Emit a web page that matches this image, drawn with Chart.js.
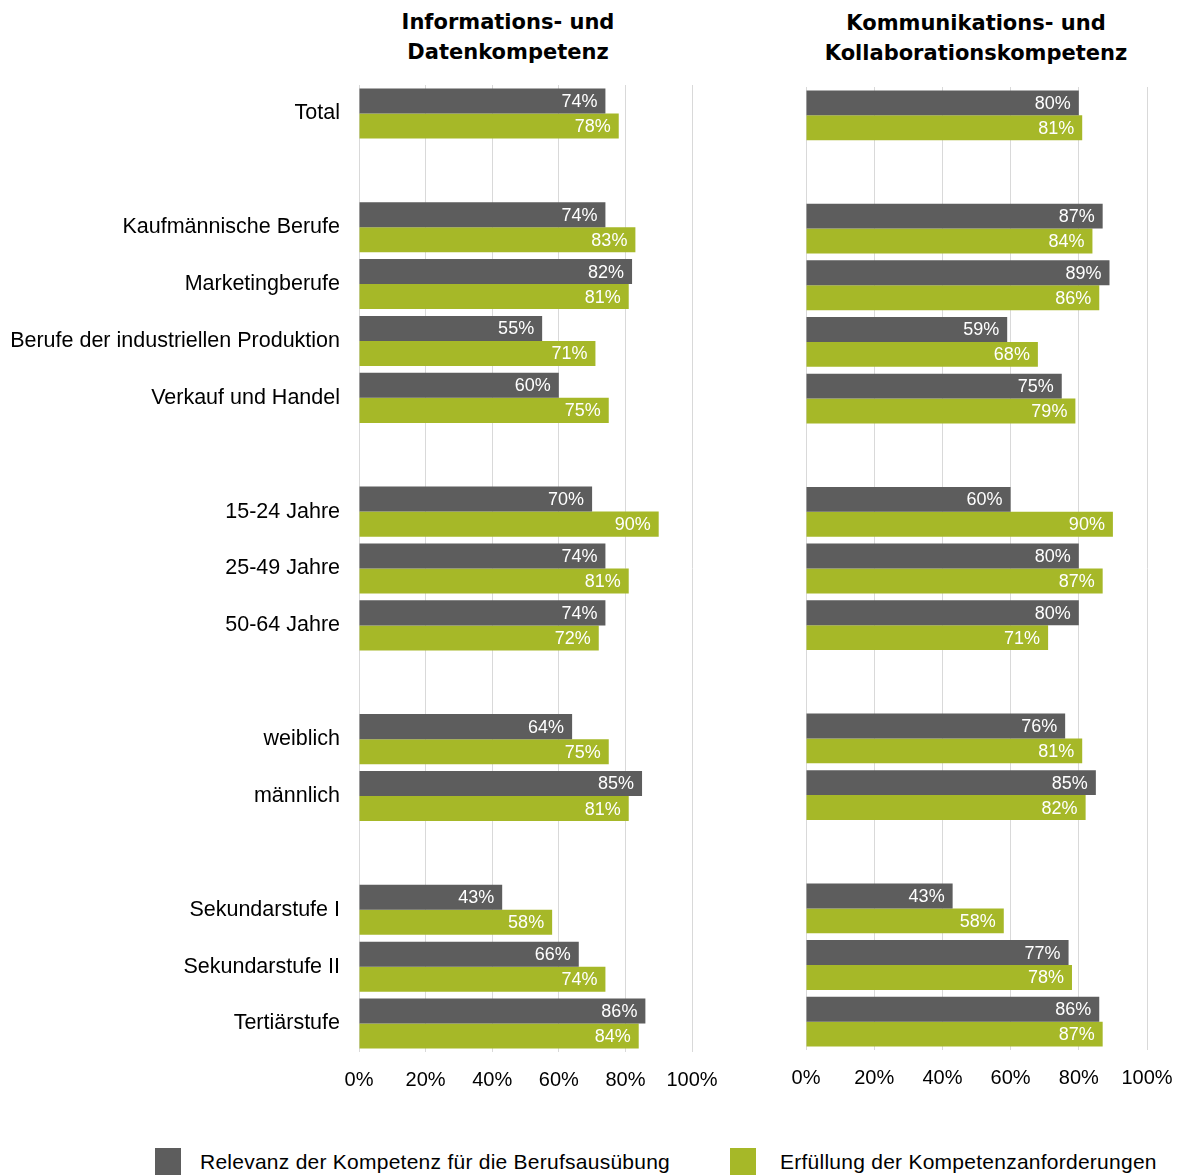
<!DOCTYPE html>
<html>
<head>
<meta charset="utf-8">
<script src="https://cdn.jsdelivr.net/npm/chart.js@4/dist/chart.umd.min.js"></script>
<style>
  html, body { margin: 0; padding: 0; background: #fff; }
  body { width: 1178px; height: 1175px; position: relative; overflow: hidden; font-family: "Liberation Sans", Arial, sans-serif; }
  .title { position: absolute; font-family: "DejaVu Sans", sans-serif; font-weight: bold; font-size: 21px; line-height: 30px; text-align: center; color: #000; width: 420px; }
  .cv { position: absolute; }
  .leg { position: absolute; top: 1148px; height: 27px; font-size: 21px; color: #000; }
  .sw { position: absolute; width: 26px; height: 27px; top: 0; }
  .lt { position: absolute; top: 2px; white-space: nowrap; letter-spacing: 0.25px; }
</style>
</head>
<body>
<div class="title" style="left:298px; top:7px;">Informations- und<br>Datenkompetenz</div>
<div class="title" style="left:766px; top:8px;">Kommunikations- und<br>Kollaborationskompetenz</div>

<canvas id="c1" class="cv" style="left:0px; top:85px;"></canvas>
<canvas id="c2" class="cv" style="left:770px; top:87px;"></canvas>

<div class="leg" style="left:155px;"><div class="sw" style="left:0; background:#5d5d5d;"></div><div class="lt" style="left:45px;">Relevanz der Kompetenz für die Berufsausübung</div></div>
<div class="leg" style="left:730px;"><div class="sw" style="left:0; background:#a6b828;"></div><div class="lt" style="left:50px;">Erfüllung der Kompetenzanforderungen</div></div>

<script>
const categories = ["Total", "", "Kaufmännische Berufe", "Marketingberufe", "Berufe der industriellen Produktion", "Verkauf und Handel", "", "15-24 Jahre", "25-49 Jahre", "50-64 Jahre", "", "weiblich", "männlich", "", "Sekundarstufe I", "Sekundarstufe II", "Tertiärstufe"];
const seriesNames = ["Relevanz der Kompetenz für die Berufsausübung", "Erfüllung der Kompetenzanforderungen"];
const infoRelevanz = [74, null, 74, 82, 55, 60, null, 70, 74, 74, null, 64, 85, null, 43, 66, 86];
const infoErfuellung = [78, null, 83, 81, 71, 75, null, 90, 81, 72, null, 75, 81, null, 58, 74, 84];
const kommRelevanz = [80, null, 87, 89, 59, 75, null, 60, 80, 80, null, 76, 85, null, 43, 77, 86];
const kommErfuellung = [81, null, 84, 86, 68, 79, null, 90, 87, 71, null, 81, 82, null, 58, 78, 87];
const xTicks = [0, 20, 40, 60, 80, 100];

const GRAY = "#5d5d5d";
const GREEN = "#a6b828";
const FONT = "'Liberation Sans', Arial, sans-serif";

const valueLabels = {
  id: "valueLabels",
  afterDatasetsDraw(chart) {
    const ctx = chart.ctx;
    ctx.save();
    ctx.font = "18px " + FONT;
    ctx.fillStyle = "#ffffff";
    ctx.textAlign = "right";
    ctx.textBaseline = "middle";
    chart.data.datasets.forEach((ds, di) => {
      const meta = chart.getDatasetMeta(di);
      meta.data.forEach((el, i) => {
        const v = ds.data[i];
        if (v === null || v === undefined) return;
        ctx.fillText(v + "%", el.x - 8, el.y + 1);
      });
    });
    ctx.restore();
  }
};

function makeChart(id, w, h, relevanz, erfuellung, showLabels, yWidth, padLeft, padRight) {
  const cv = document.getElementById(id);
  cv.width = w; cv.height = h;
  cv.style.width = w + "px"; cv.style.height = h + "px";
  return new Chart(cv, {
    type: "bar",
    data: {
      labels: categories,
      datasets: [
        { label: seriesNames[0], data: relevanz, backgroundColor: GRAY, borderWidth: 0, categoryPercentage: 0.88, barPercentage: 1.0 },
        { label: seriesNames[1], data: erfuellung, backgroundColor: GREEN, borderWidth: 0, categoryPercentage: 0.88, barPercentage: 1.0 }
      ]
    },
    options: {
      indexAxis: "y",
      responsive: false,
      animation: false,
      events: [],
      layout: { padding: { left: padLeft, right: padRight, top: 0, bottom: 0 } },
      plugins: { legend: { display: false }, tooltip: { enabled: false }, title: { display: false } },
      scales: {
        x: {
          min: 0, max: 100,
          afterBuildTicks(scale) { scale.ticks = xTicks.map(v => ({ value: v })); },
          ticks: { callback: v => v + "%", font: { size: 20, family: FONT }, color: "#000", padding: 16, maxRotation: 0, autoSkip: false },
          grid: { color: "#d9d9d9", lineWidth: 1, drawTicks: false },
          border: { display: false },
          afterFit(scale) { scale.height = 45; scale.paddingLeft = 0; scale.paddingRight = 0; scale.paddingTop = 0; scale.paddingBottom = 0; }
        },
        y: {
          display: showLabels ? true : false,
          grid: { display: false, drawTicks: false },
          border: { display: false },
          ticks: { font: { size: 21.5, family: FONT }, color: "#000", padding: 19, autoSkip: false },
          afterFit(scale) { scale.width = yWidth; scale.paddingTop = 0; scale.paddingBottom = 0; scale.paddingLeft = 0; scale.paddingRight = 0; }
        }
      }
    },
    plugins: [valueLabels]
  });
}

// Left: chart area x 359..692, y 85..1052
makeChart("c1", 725, 967 + 45, infoRelevanz, infoErfuellung, true, 359, 0, 725 - 692);
// Right: chart area x 806..1147, y 87..1050
makeChart("c2", 408, 963 + 45, kommRelevanz, kommErfuellung, false, 0, 36, 408 - 36 - 341);
</script>
</body>
</html>
